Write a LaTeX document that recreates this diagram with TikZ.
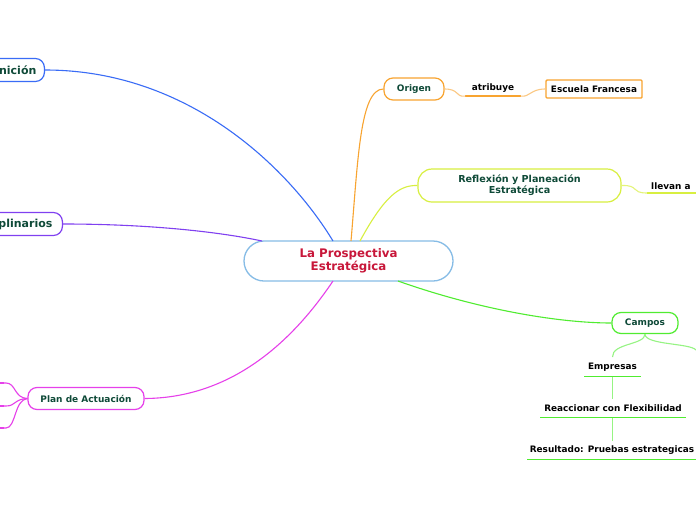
\documentclass[tikz,border=0pt]{standalone}
\usepackage{fontspec}
\setmainfont{DejaVu Sans}
\definecolor{cblue}{HTML}{3A6CF6}
\definecolor{cpurple}{HTML}{8040F0}
\definecolor{cmag}{HTML}{E640EA}
\definecolor{corange}{HTML}{F8A430}
\definecolor{cyellow}{HTML}{D8EF40}
\definecolor{cgreen}{HTML}{50EC30}
\definecolor{ctext}{HTML}{0F4A38}
\definecolor{ccenter}{HTML}{C8173A}
\definecolor{cborder}{HTML}{86BCE6}
\begin{document}
\begin{tikzpicture}[x=1pt,y=-1pt,
  topic/.style={draw, line width=1.2pt, fill=white, rounded corners=9pt, text=ctext,
    font=\bfseries\fontsize{9}{10.5}\selectfont, inner xsep=7pt, inner ysep=0pt, minimum height=22pt, align=center},
  leaf/.style={draw=none, text=black, font=\bfseries\fontsize{8.9}{10}\selectfont, inner xsep=4pt, inner ysep=3pt},
  conn/.style={line width=1.1pt},
  uline/.style={line width=1.7pt}]
\useasboundingbox (0,0) rectangle (696,520);
\fill[white] (0,0) rectangle (696,520);

% central
\node[draw=cborder, line width=1.3pt, fill=white, rounded corners=20pt, minimum width=209pt, minimum height=40pt,
  text=ccenter, font=\bfseries\fontsize{11.8}{13.5}\selectfont, align=center] (c) at (348.5,261) {La Prospectiva\\Estratégica};

% left cut-off nodes
\node[topic, draw=cblue, anchor=east, minimum height=23pt, inner xsep=8pt, font=\bfseries\fontsize{11}{12}\selectfont] (def) at (45,70) {Definición};
\node[topic, draw=cpurple, anchor=east, minimum height=23pt, inner xsep=10pt, font=\bfseries\fontsize{11}{12}\selectfont] (inter) at (63,224) {Interdisciplinarios};
\node[topic, draw=cmag, minimum width=116pt] (plan) at (86,398.5) {Plan de Actuación};

\coordinate (p1) at (0,383);
\coordinate (p2) at (0,406);
\coordinate (p3) at (0,428);
\draw[cmag, conn] (plan.west) .. controls (14,398) and (16,383) .. (6,383) -- (p1);
\draw[cmag, conn] (plan.west) .. controls (14,399) and (16,406) .. (6,406) -- (p2);
\draw[cmag, conn] (plan.west) .. controls (14,400) and (16,428) .. (6,428) -- (p3);
\draw[cmag, uline] (p1) -- ++(4,0);
\draw[cmag, uline] (p2) -- ++(4,0);
\draw[cmag, uline] (p3) -- ++(4,0);

% right topics
\node[topic, draw=corange, minimum width=60pt] (orig) at (414,89) {Origen};
\node[leaf, text=black, minimum width=55pt] (atr) at (493,88.5) {atribuye};
\draw[corange, uline] (atr.south west) -- (atr.south east);
\node[draw=corange, line width=1.4pt, rounded corners=1pt, fill=white, text=black,
  font=\bfseries\fontsize{8.9}{10}\selectfont, minimum width=96pt, minimum height=18pt, inner sep=0pt] (esc) at (594,89) {Escuela Francesa};

\node[topic, draw=cyellow, minimum width=203pt, minimum height=33pt, rounded corners=14pt, font=\bfseries\fontsize{9.6}{11}\selectfont] (refl) at (519.5,185.5) {Reflexión y Planeación\\Estratégica};
\node[leaf, anchor=south west, inner ysep=3pt] (llev) at (647,193) {llevan a};
\draw[cyellow, uline] (llev.south west) -- (696,193) coordinate (llevend);

\node[topic, draw=cgreen, minimum width=66pt, minimum height=21pt] (camp) at (645,323) {Campos};
\node[leaf] (emp) at (612.5,367.5) {Empresas};
\node[leaf] (reac) at (613,408.5) {Reaccionar con Flexibilidad};
\node[leaf] (res) at (612,450.5) {Resultado: Pruebas estrategicas};
\draw[cgreen, uline] (584,376.5) coordinate (e1) -- (641,376.5) coordinate (e2);
\draw[cgreen, uline] (540,417.5) coordinate (r1) -- (686,417.5) coordinate (r2);
\draw[cgreen, uline] (527,459.5) coordinate (s1) -- (696,459.5) coordinate (s2);
\coordinate (campright) at (696,350);

% connectors from centre
\draw[cblue, conn] (def.east) .. controls (190,70) and (290,170) .. (333,241);
\draw[cpurple, conn] (inter.east) .. controls (150,224) and (220,232) .. (262,241);
\draw[cmag, conn] (plan.east) .. controls (240,398) and (300,330) .. (333,281);
\draw[corange, conn] (351,241) .. controls (358,160) and (360,89) .. (orig.west);
\draw[cyellow, conn] (360,241) .. controls (385,195) and (400,185) .. (refl.west);
\draw[cgreen, conn] (398,281) .. controls (480,310) and (560,323) .. (camp.west);

% secondary connectors
\draw[corange!60, conn] (orig.east) .. controls (460,89) and (455,97.5) .. (atr.south west);
\draw[corange!60, conn] (atr.south east) .. controls (530,97.5) and (530,89) .. (esc.west);
\draw[cyellow!70, conn] (refl.east) .. controls (640,185) and (630,193) .. (llev.south west);
\draw[cgreen!60, conn] (camp.south) .. controls (645,345) and (612,343) .. (612.5,357);
\draw[cgreen!60, conn] (camp.south) .. controls (645,345) and (690,343) .. (campright);
\draw[cgreen!60, conn] (612.5,377) -- (612.5,399);
\draw[cgreen!60, conn] (612.5,418) -- (612.5,441);
\end{tikzpicture}
\end{document}
